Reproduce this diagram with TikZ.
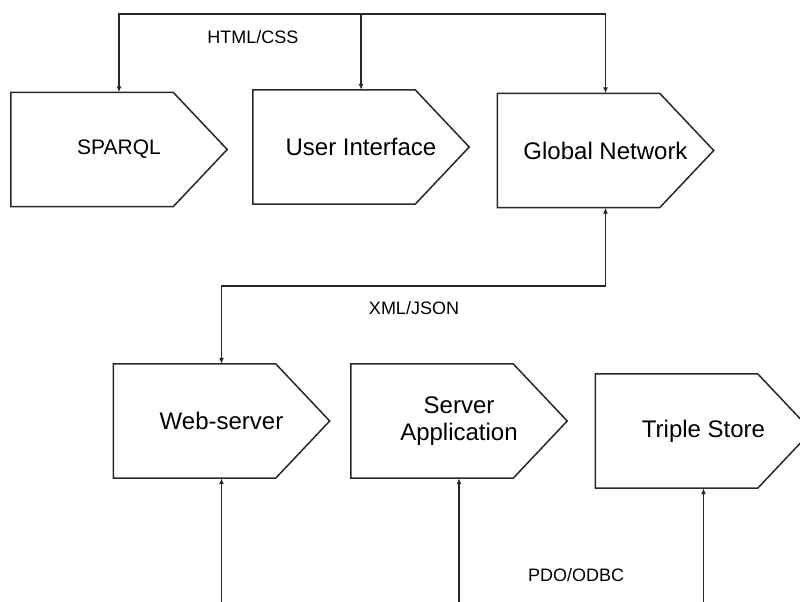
\documentclass[tikz,border=0pt]{standalone}
\usepackage{fontspec}
\setmainfont{Liberation Sans}
\usetikzlibrary{arrows.meta}
\definecolor{edgegray}{RGB}{40,40,40}

\begin{document}
\begin{tikzpicture}[x=1pt, y=-1pt,
        outline/.style={draw=edgegray, line width=1.5pt, line join=miter},
        stage/.style={minimum width=216pt, minimum height=114pt, inner sep=0pt, align=center,
          font=\fontsize{24}{27}\selectfont,
          append after command={\pgfextra{\let\stagenode\tikzlastnode
            \draw[outline] (\stagenode.north west) -- ([xshift=-54pt]\stagenode.north east)
              -- (\stagenode.east) -- ([xshift=-54pt]\stagenode.south east)
              -- (\stagenode.south west) -- cycle;}}},
        tag/.style={font=\fontsize{18}{20}\selectfont},
        link/.style={draw=edgegray, line width=1.5pt, -{Latex[length=6pt,width=5pt]}},
        uplink/.style={draw=edgegray, line width=1.5pt, {Latex[length=6pt,width=5pt]}-},
        twoway/.style={draw=edgegray, line width=1.5pt, {Latex[length=6pt,width=5pt]}-{Latex[length=6pt,width=5pt]}}
      ]
      \useasboundingbox[fill=white] (0,0) rectangle (800,602);

      % client side
      \node[stage, font=\fontsize{21}{25}\selectfont] (sparql) at (119,149.5) {SPARQL};
      \node[stage] (ui) at (361,147) {User Interface};
      \node[stage] (gnet) at (605.5,150.5) {Global Network};
      \coordinate (bus) at (361,14);
      \draw[link] (bus) -| (sparql.north);
      \draw[link] (bus) -- (ui.north);
      \draw[link] (bus) -| (gnet.north);
      \node[tag] (html) at (253,37) {HTML/CSS};

      % server side
      \node[stage] (web) at (221.5,421) {Web-server};
      \node[stage] (app) at (459,421) {Server\\Application};
      \node[stage] (store) at (703.5,431) {Triple Store};
      \draw[twoway] (web.north) -- ++(0,-78) -| (gnet.south);
      \node[tag] (xml) at (414,308) {XML/JSON};

      \coordinate (edge) at (0,604);
      \draw[uplink] (web.south) -- (web.south |- edge);
      \draw[uplink] (app.south) -- (app.south |- edge);
      \draw[uplink] (store.south) -- (store.south |- edge);
      \node[tag] (pdo) at (576,575) {PDO/ODBC};
    \end{tikzpicture}
\end{document}
